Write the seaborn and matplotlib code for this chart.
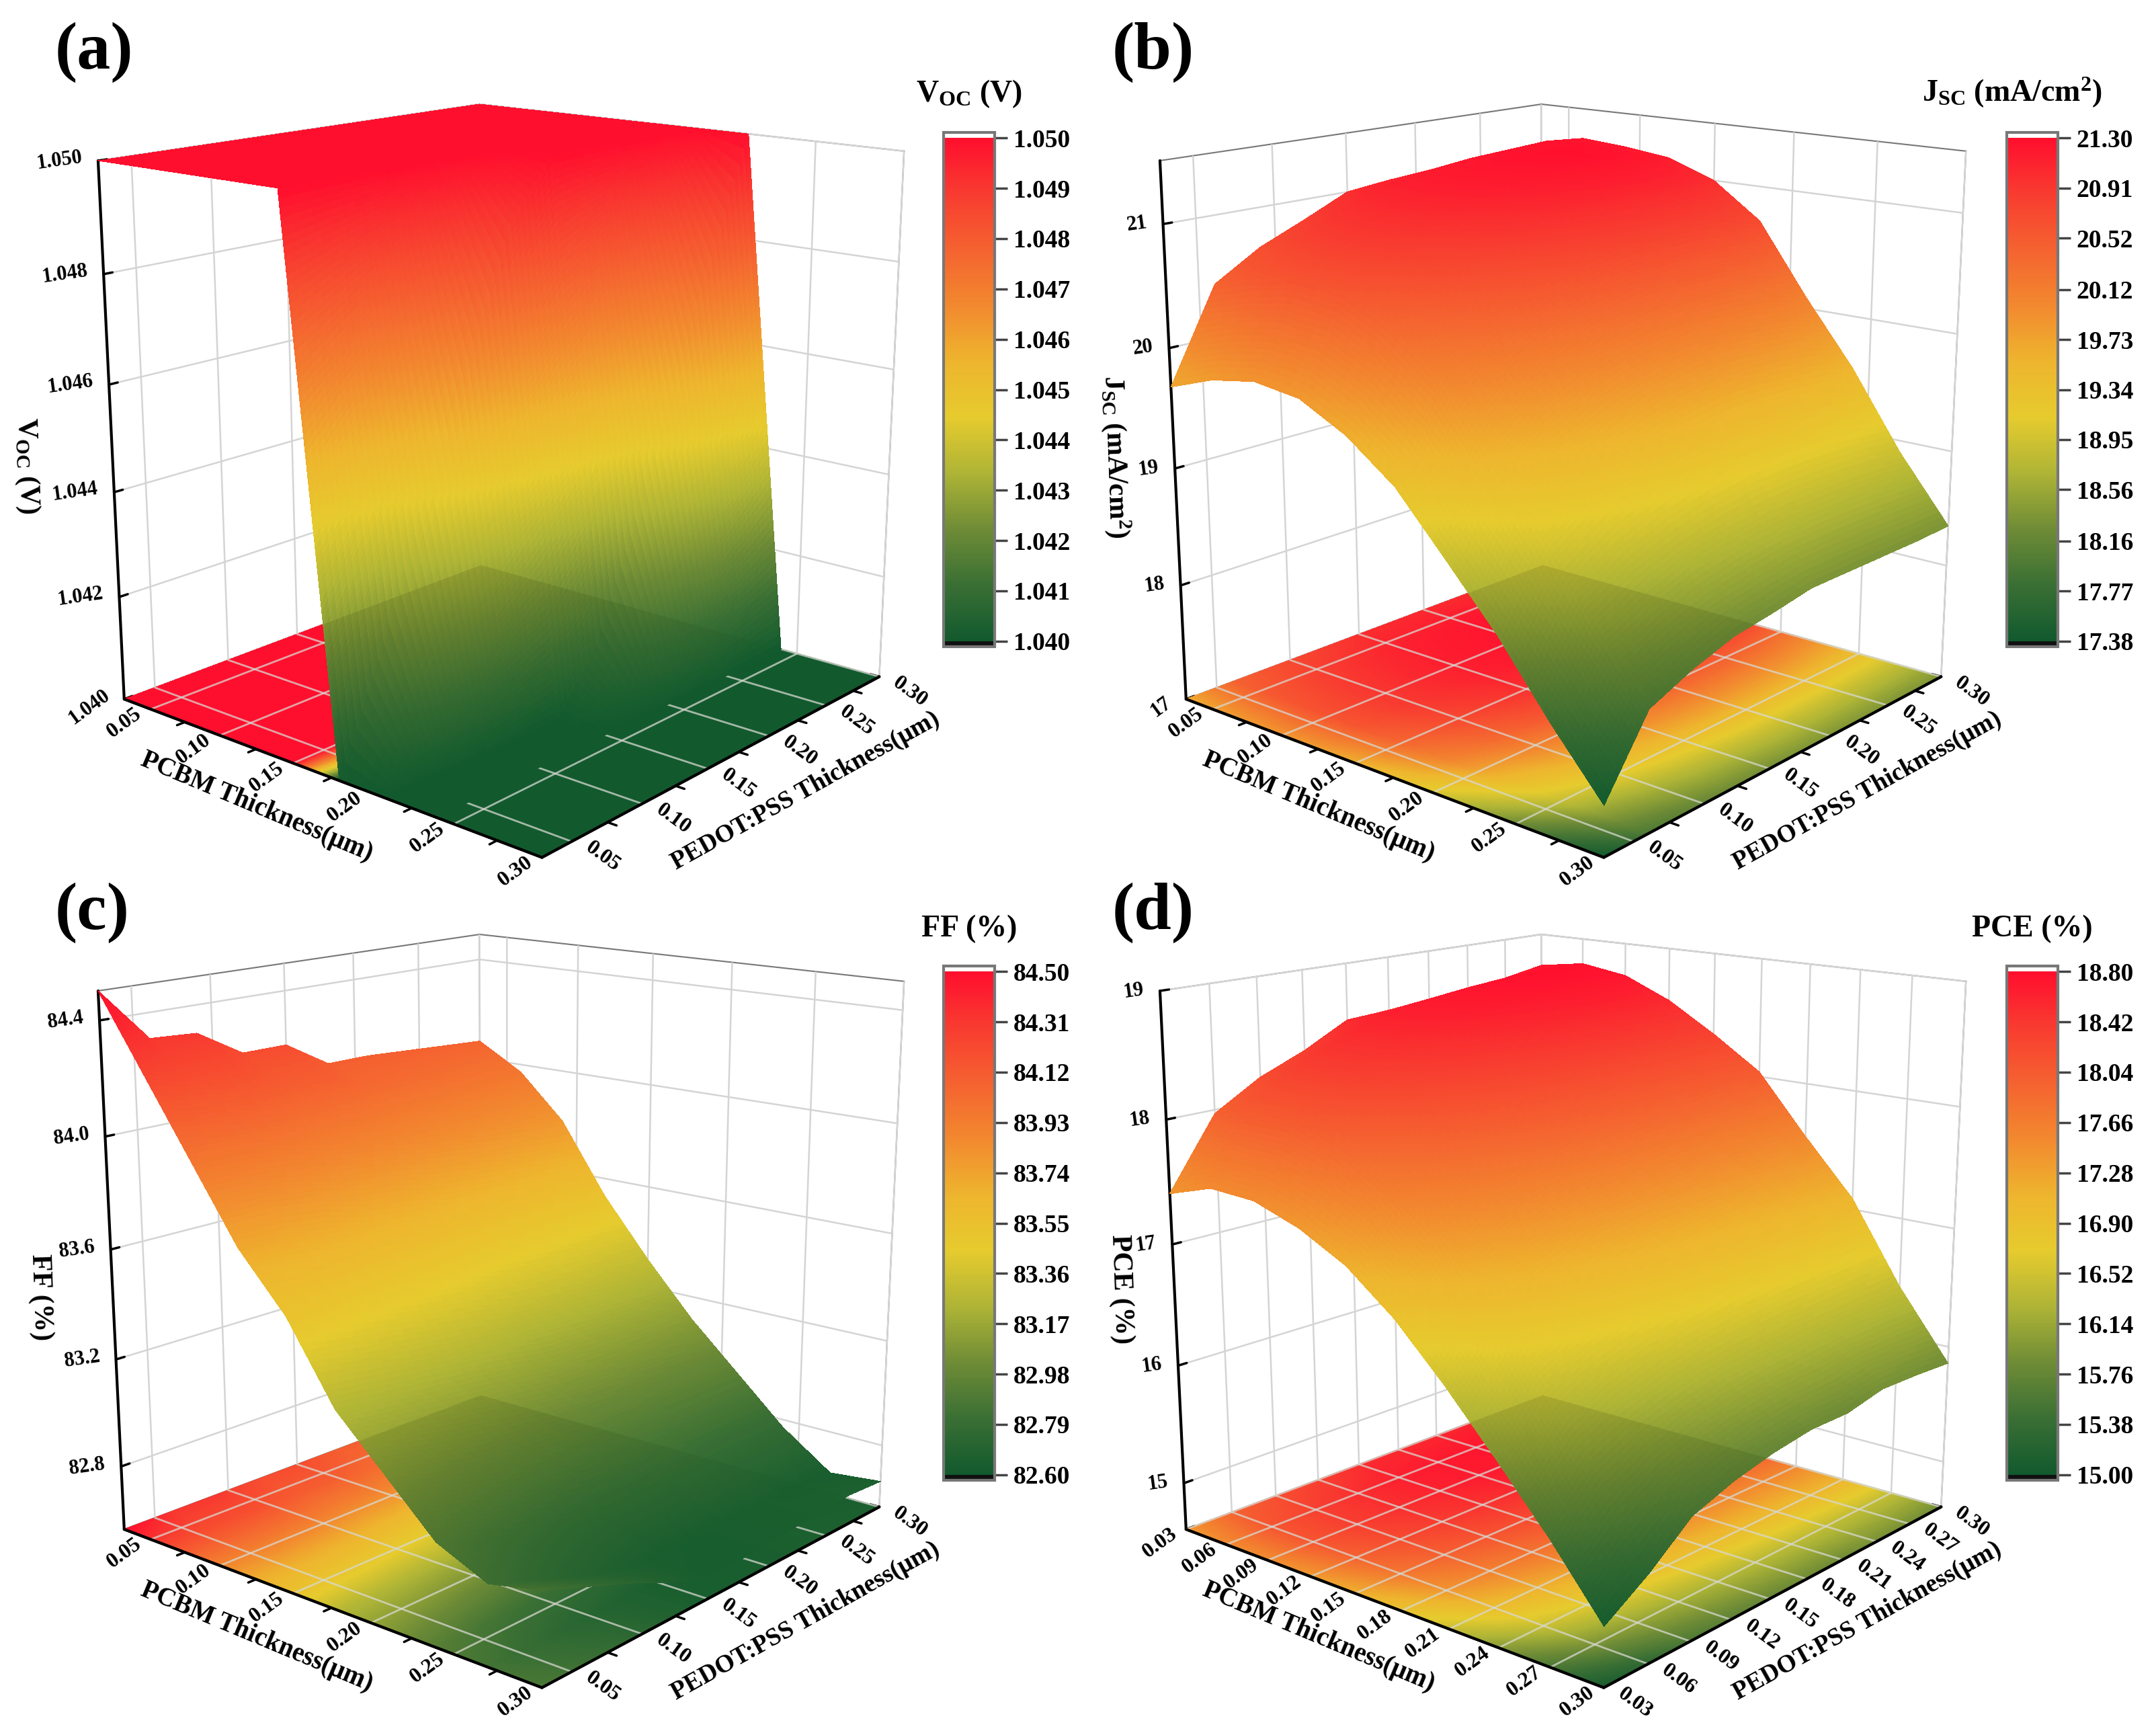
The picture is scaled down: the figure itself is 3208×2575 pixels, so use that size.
import numpy as np
import matplotlib
matplotlib.use("Agg")
import matplotlib.pyplot as plt
from matplotlib.colors import Normalize
from matplotlib.cm import ScalarMappable
from matplotlib.patches import Polygon
from mpl_toolkits.mplot3d import proj3d
import seaborn as sns

pcbm_um = [0.03, 0.06, 0.09, 0.12, 0.15, 0.18, 0.21, 0.24, 0.27, 0.30]
pedot_um = [0.03, 0.06, 0.09, 0.12, 0.15, 0.18, 0.21, 0.24, 0.27, 0.30]

voc_v = [
    [1.05] * 10,
    [1.05] * 10,
    [1.05] * 10,
    [1.05] * 10,
    [1.05] * 10,
    [1.0400, 1.0422, 1.0444, 1.0467, 1.0489, 1.05, 1.05, 1.05, 1.05, 1.05],
    [1.04, 1.04, 1.04, 1.04, 1.04, 1.0411, 1.0433, 1.0456, 1.0478, 1.05],
    [1.04] * 10,
    [1.04] * 10,
    [1.04] * 10,
]

jsc_ma = [
    [19.68, 20.44, 20.67, 20.83, 21.00, 21.04, 21.02, 21.02, 21.10, 21.14],
    [19.82, 20.55, 20.80, 20.98, 21.12, 21.18, 21.22, 21.24, 21.26, 21.23],
    [19.89, 20.62, 20.87, 21.03, 21.15, 21.22, 21.26, 21.28, 21.27, 21.20],
    [19.84, 20.58, 20.84, 21.00, 21.12, 21.20, 21.25, 21.27, 21.24, 21.15],
    [19.64, 20.38, 20.66, 20.84, 20.98, 21.06, 21.12, 21.13, 21.10, 21.00],
    [19.34, 20.05, 20.34, 20.53, 20.68, 20.77, 20.82, 20.83, 20.80, 20.70],
    [18.89, 19.55, 19.83, 20.02, 20.16, 20.24, 20.28, 20.27, 20.22, 20.10],
    [18.43, 19.04, 19.30, 19.46, 19.58, 19.65, 19.67, 19.65, 19.62, 19.55],
    [17.89, 18.48, 18.67, 18.80, 18.88, 18.93, 18.95, 18.95, 18.93, 18.90],
    [17.40, 17.97, 18.12, 18.23, 18.28, 18.34, 18.34, 18.34, 18.34, 18.35],
]

ff_pct = [
    [84.50, 84.31, 84.30, 84.20, 84.20, 84.10, 84.10, 84.09, 84.08, 84.07],
    [84.24, 84.20, 84.18, 84.12, 84.10, 84.04, 84.02, 84.00, 83.98, 83.97],
    [83.98, 83.98, 83.96, 83.92, 83.90, 83.87, 83.85, 83.83, 83.81, 83.80],
    [83.72, 83.72, 83.70, 83.66, 83.64, 83.60, 83.58, 83.56, 83.54, 83.53],
    [83.53, 83.50, 83.47, 83.44, 83.42, 83.38, 83.36, 83.34, 83.32, 83.31],
    [83.26, 83.24, 83.22, 83.20, 83.18, 83.15, 83.14, 83.13, 83.12, 83.11],
    [83.09, 83.05, 83.01, 82.98, 82.96, 82.95, 82.95, 82.94, 82.94, 82.94],
    [82.92, 82.86, 82.82, 82.78, 82.76, 82.76, 82.77, 82.77, 82.77, 82.77],
    [82.84, 82.78, 82.72, 82.68, 82.65, 82.64, 82.65, 82.66, 82.65, 82.64],
    [82.88, 82.82, 82.76, 82.69, 82.64, 82.64, 82.65, 82.66, 82.67, 82.66],
]

pce_pct = [
    [17.41, 17.97, 18.19, 18.34, 18.53, 18.55, 18.58, 18.60, 18.66, 18.72],
    [17.53, 18.12, 18.35, 18.52, 18.64, 18.70, 18.74, 18.77, 18.79, 18.78],
    [17.51, 18.12, 18.36, 18.50, 18.61, 18.68, 18.72, 18.75, 18.75, 18.72],
    [17.38, 17.98, 18.22, 18.37, 18.47, 18.54, 18.58, 18.60, 18.60, 18.55],
    [17.18, 17.74, 17.98, 18.12, 18.22, 18.28, 18.32, 18.34, 18.33, 18.31],
    [16.87, 17.41, 17.63, 17.77, 17.88, 17.94, 17.98, 18.00, 18.02, 18.04],
    [16.47, 16.97, 17.17, 17.30, 17.40, 17.45, 17.49, 17.51, 17.53, 17.55],
    [16.03, 16.47, 16.66, 16.78, 16.87, 16.93, 16.98, 17.02, 17.06, 17.09],
    [15.57, 15.92, 16.09, 16.20, 16.28, 16.33, 16.37, 16.39, 16.41, 16.42],
    [15.06, 15.29, 15.57, 15.69, 15.77, 15.82, 15.82, 15.89, 15.88, 15.86],
]

ticks_05 = [0.05, 0.10, 0.15, 0.20, 0.25, 0.30]
ticks_03 = [0.03, 0.06, 0.09, 0.12, 0.15, 0.18, 0.21, 0.24, 0.27, 0.30]

voc_zticks = [1.040, 1.042, 1.044, 1.046, 1.048, 1.050]
jsc_zticks = [17, 18, 19, 20, 21]
ff_zticks = [82.8, 83.2, 83.6, 84.0, 84.4]
pce_zticks = [15, 16, 17, 18, 19]

voc_bar = ["1.040", "1.041", "1.042", "1.043", "1.044", "1.045", "1.046", "1.047", "1.048", "1.049", "1.050"]
jsc_bar = ["17.38", "17.77", "18.16", "18.56", "18.95", "19.34", "19.73", "20.12", "20.52", "20.91", "21.30"]
ff_bar = ["82.60", "82.79", "82.98", "83.17", "83.36", "83.55", "83.74", "83.93", "84.12", "84.31", "84.50"]
pce_bar = ["15.00", "15.38", "15.76", "16.14", "16.52", "16.90", "17.28", "17.66", "18.04", "18.42", "18.80"]

sns.set_theme(style="white")
plt.rcParams["font.family"] = ["Liberation Serif", "DejaVu Serif"]
plt.rcParams["font.weight"] = "bold"
plt.rcParams["text.color"] = "black"
plt.rcParams["xtick.color"] = "black"
plt.rcParams["ytick.color"] = "black"
plt.rcParams["xtick.bottom"] = True
plt.rcParams["ytick.left"] = True
plt.rcParams["mathtext.fontset"] = "custom"
plt.rcParams["mathtext.rm"] = "Liberation Serif:bold"
plt.rcParams["mathtext.it"] = "Liberation Serif:bold"
plt.rcParams["mathtext.bf"] = "Liberation Serif:bold"

surf_cmap = sns.blend_palette(
    ["#125a2e", "#3a6f34", "#6f8c36", "#aeb436", "#e6cb2e", "#eeb52e", "#f2892f",
     "#f56330", "#f83c30", "#ff0f2e"], n_colors=256, as_cmap=True)
bar_cmap = surf_cmap.copy()
bar_cmap.set_over("white")
bar_cmap.set_under("#111111")
shadow_cmap = sns.blend_palette(
    ["#125a2e", "#366a30", "#64802f", "#9ca22f", "#cfb72a", "#d6a32a", "#da7b2a",
     "#dc592b", "#de362b", "#e40e2a"], n_colors=256, as_cmap=True)

W, H = 3208, 2575
fig = plt.figure(figsize=(W / 100, H / 100), dpi=100, facecolor="white")


def refine(a, nx=16, ny=16):
    # finer mesh only so the colour runs smoothly across a cell
    a = np.asarray(a, dtype=float)
    fx = np.linspace(0, a.shape[0] - 1, (a.shape[0] - 1) * nx + 1)
    if a.ndim == 1:
        return np.interp(fx, np.arange(a.shape[0]), a)
    a = np.array([np.interp(fx, np.arange(a.shape[0]), c) for c in a.T]).T
    fy = np.linspace(0, a.shape[1] - 1, (a.shape[1] - 1) * ny + 1)
    return np.array([np.interp(fy, np.arange(a.shape[1]), r) for r in a])


def tick_text(ax, x, y, z, label, off_px, rot, size, ha="center"):
    # tick labels go straight sideways from the tick, which the 3d axis can't do on its own
    px, py, _ = proj3d.proj_transform([x], [y], [z], ax.get_proj())
    ax.annotate(label, xy=(px[0], py[0]), xycoords="data",
                xytext=(off_px[0] * 0.72, off_px[1] * 0.72), textcoords="offset points",
                rotation=rot, fontsize=size, fontweight="bold", ha=ha, va="center",
                annotation_clip=False, zorder=7)


def panel(cx, cy, z, zlim, zticks, zfmt, xy_ticks, vlim, bar_labels, zlabel, bar_title, letter,
          bar_left, bar_top, title_x, zlabel_xy, keep=10, nx=16, ny=16):
    side = 1382
    ax = fig.add_axes([(cx - side / 2) / W, 1 - (cy + side / 2) / H, side / W, side / H],
                      projection="3d", computed_zorder=False)
    ax.patch.set_alpha(0)
    ax.set_proj_type("persp", focal_length=0.45)
    ax.view_init(elev=15.5, azim=-49.5)
    ax.set_box_aspect((1, 1, 0.997))
    xmin, xmax = pcbm_um[0], pcbm_um[-1]
    ymin, ymax = pedot_um[0], pedot_um[-1]
    ax.set_xlim(xmin, xmax, view_margin=0)
    ax.set_ylim(ymin, ymax, view_margin=0)
    ax.set_zlim(zlim[0], zlim[1], view_margin=0)
    norm = Normalize(vlim[0], vlim[1])

    xf, yf = refine(pcbm_um, nx), refine(pedot_um, ny)
    zf = refine(z, nx, ny)
    Xf, Yf = np.meshgrid(xf, yf, indexing="ij")

    ax.plot_surface(Xf, Yf, np.full_like(zf, zlim[0]), facecolors=surf_cmap(norm(zf)),
                    rstride=1, cstride=1, linewidth=0, antialiased=False, shade=False, zorder=1)

    for v in xy_ticks:
        ax.plot([v, v], [ymin, ymax], [zlim[0]] * 2, color="#d8d8d0", alpha=0.75, lw=2, zorder=2)
        ax.plot([xmin, xmax], [v, v], [zlim[0]] * 2, color="#d8d8d0", alpha=0.75, lw=2, zorder=2)

    n = (keep - 1) * nx + 1
    ax.plot_surface(Xf[:n], Yf[:n], zf[:n], cmap=surf_cmap, norm=norm, rstride=1, cstride=1,
                    linewidth=0, antialiased=False, shade=False, zorder=3)
    under = ax.plot_surface(Xf[:n], Yf[:n], zf[:n], cmap=shadow_cmap, norm=norm, rstride=1, cstride=1,
                            linewidth=0, antialiased=False, shade=False, zorder=4)
    cx3 = [xmin, xmax, xmax, xmin]
    cy3 = [ymin, ymin, ymax, ymax]
    px, py, _ = proj3d.proj_transform(cx3, cy3, [zlim[0]] * 4, ax.get_proj())
    under.set_clip_path(Polygon(np.column_stack([px, py]), closed=True, transform=ax.transData))

    ax.plot([xmin, xmax], [ymin, ymin], [zlim[0]] * 2, color="black", lw=3, zorder=6)
    ax.plot([xmax, xmax], [ymin, ymax], [zlim[0]] * 2, color="black", lw=3, zorder=6)

    # half-way ticks on the 0.05 axes
    if len(xy_ticks) == 6:
        for a, b in zip(xy_ticks[:-1], xy_ticks[1:]):
            m = (a + b) / 2
            ax.plot([m, m], [ymin, ymin - 0.005], [zlim[0]] * 2, color="black", lw=2.5, zorder=6)
            ax.plot([xmax, xmax + 0.005], [m, m], [zlim[0]] * 2, color="black", lw=2.5, zorder=6)

    for axis in (ax.xaxis, ax.yaxis, ax.zaxis):
        axis.set_pane_color((1, 1, 1, 1))
        axis.pane.set_edgecolor("#777777")
        axis.pane.set_linewidth(1.5)
        axis._axinfo["grid"].update(color="#d4d4d4", linewidth=1.8, linestyle="-")
        axis._axinfo["tick"].update(inward_factor=0.0, outward_factor=0.25,
                                    linewidth={True: 2.5, False: 2.0})
        axis.line.set_color("black")
        axis.line.set_linewidth(3)
    ax.grid(True)

    ax.set_xticks(xy_ticks)
    ax.set_xticklabels([])
    ax.set_yticks(xy_ticks)
    ax.set_yticklabels([])
    ax.set_zticks(zticks)
    ax.set_zticklabels([])
    ax.tick_params(axis="both", color="black")
    ax.tick_params(axis="z", color="black")
    ax.zaxis.set_ticks_position("lower")

    for t in xy_ticks:
        tick_text(ax, t, ymin, zlim[0], "%.2f" % t, (-39, -21), 36, 23)
        tick_text(ax, xmax, t, zlim[0], "%.2f" % t, (46, -23), -36, 23)
    for t in zticks:
        if t == zlim[0]:
            tick_text(ax, xmin, ymin, t, zfmt % t, (-16, -12), 36, 22, ha="right")
        else:
            tick_text(ax, xmin, ymin, t, zfmt % t, (-22, 0), 8, 22, ha="right")

    # axis titles sit off the edge mid-points in the reference, so placed by hand
    dx, dy = cx - 735, cy - 659
    fig.text((382 + dx) / W, 1 - (1200 + dy) / H, "PCBM Thickness(μm)", fontsize=28, fontweight="bold",
             rotation=-22.7, ha="center", va="center")
    fig.text((1198 + dx) / W, 1 - (1176 + dy) / H, "PEDOT:PSS Thickness(μm)", fontsize=27, fontweight="bold",
             rotation=29, ha="center", va="center")
    fig.text(zlabel_xy[0] / W, 1 - zlabel_xy[1] / H, zlabel, fontsize=30, fontweight="bold",
             rotation=-88, ha="center", va="center")

    cax = fig.add_axes([bar_left / W, 1 - (bar_top + 765) / H, 76 / W, 765 / H])
    sm = ScalarMappable(norm=norm, cmap=bar_cmap)
    cb = fig.colorbar(sm, cax=cax, extend="both", extendrect=True, extendfrac=0.011, drawedges=False)
    values = [float(t) for t in bar_labels]
    cb.set_ticks(values)
    cb.set_ticklabels(bar_labels)
    cb.minorticks_off()
    cb.ax.tick_params(labelsize=27, length=14, width=2.5, color="#444444", pad=6, right=True)
    cb.outline.set_edgecolor("#777777")
    cb.outline.set_linewidth(3)
    cax.text(title_x, 1.056, bar_title, transform=cax.transAxes, ha="center", va="bottom",
             fontsize=33, fontweight="bold")

    fig.text(letter[1] / W, 1 - letter[2] / H, letter[0], fontsize=72, fontweight="bold",
             ha="left", va="center")


panel(735, 659, voc_v, (1.040, 1.050), voc_zticks, "%.3f", ticks_05, (1.040, 1.050), voc_bar,
      r"$\mathrm{V_{OC}}$ (V)", r"$\mathrm{V_{OC}}$ (V)", ("(a)", 82, 78), 1404, 197, 0.5, (40, 693),
      keep=8, nx=64, ny=8)
panel(2315, 659, jsc_ma, (17, 21.5), jsc_zticks, "%d", ticks_05, (17.38, 21.30), jsc_bar,
      r"$\mathrm{J_{SC}}$ (mA/cm$^{\mathbf{2}}$)", r"$\mathrm{J_{SC}}$ (mA/cm$^{\mathbf{2}}$)",
      ("(b)", 1655, 78), 2986, 197, 0.1, (1660, 680))
panel(735, 1894, ff_pct, (82.56, 84.5), ff_zticks, "%.1f", ticks_05, (82.60, 84.50), ff_bar,
      "FF (%)", "FF (%)", ("(c)", 82, 1358), 1404, 1437, 0.5, (60, 1930))
panel(2315, 1894, pce_pct, (14.6, 19.0), pce_zticks, "%d", ticks_03, (15.00, 18.80), pce_bar,
      "PCE (%)", "PCE (%)", ("(d)", 1655, 1358), 2986, 1437, 0.5, (1668, 1918))

fig.savefig("out.png", dpi=100, facecolor="white")
